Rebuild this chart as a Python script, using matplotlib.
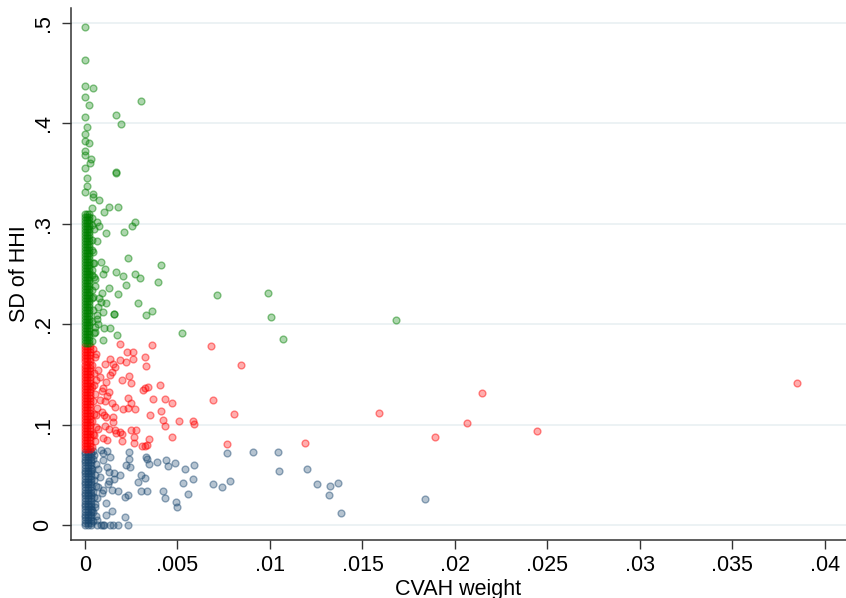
import matplotlib
matplotlib.use("Agg")
import matplotlib.pyplot as plt
from matplotlib.colors import to_rgba
import numpy as np

plt.rcParams['font.family'] = ['Liberation Sans', 'DejaVu Sans']

# axis ticks and labels
x_ticks = [0, 0.005, 0.01, 0.015, 0.02, 0.025, 0.03, 0.035, 0.04]
x_tick_labels = ["0", ".005", ".01", ".015", ".02", ".025", ".03", ".035", ".04"]
y_ticks = [0, 0.1, 0.2, 0.3, 0.4, 0.5]
y_tick_labels = ["0", ".1", ".2", ".3", ".4", ".5"]

# dense strip of points at (almost) zero CVAH weight
blue_band_x = [0.0, 0.00015, 0.0003]
blue_band_y = [0.000, 0.002, 0.005, 0.008, 0.010, 0.013, 0.016, 0.019, 0.021, 0.024,
               0.027, 0.030, 0.032, 0.035, 0.038, 0.041, 0.043, 0.046, 0.049, 0.052,
               0.054, 0.057, 0.060, 0.063, 0.065, 0.068, 0.071, 0.073]
red_band_x = [0.0, 0.00013, 0.00026]
red_band_y = [0.076, 0.079, 0.082, 0.085, 0.088, 0.091, 0.094, 0.097, 0.100, 0.103,
              0.106, 0.109, 0.112, 0.115, 0.118, 0.121, 0.124, 0.127, 0.130, 0.133,
              0.136, 0.139, 0.142, 0.145, 0.148, 0.151, 0.154, 0.157, 0.160, 0.163,
              0.166, 0.169, 0.172, 0.175, 0.178]
green_band_x = [0.0, 0.00012, 0.00024]
green_band_y = [0.181, 0.184, 0.187, 0.190, 0.193, 0.196, 0.199, 0.202, 0.205, 0.208,
                0.211, 0.214, 0.217, 0.220, 0.223, 0.226, 0.229, 0.232, 0.235, 0.238,
                0.241, 0.244, 0.247, 0.250, 0.253, 0.256, 0.259, 0.262, 0.265, 0.268,
                0.271, 0.274, 0.277, 0.280, 0.283, 0.286, 0.289, 0.292, 0.295, 0.298,
                0.301, 0.304, 0.307, 0.310]

# looser fringe on the right side of the strip
blue_fringe_x = [0.00045, 0.0006, 0.0004, 0.00055, 0.0005, 0.00042, 0.0006, 0.00048,
                 0.00052, 0.0004, 0.00058, 0.00046, 0.0005, 0.00044]
blue_fringe_y = [0.004, 0.009, 0.015, 0.021, 0.028, 0.033, 0.039, 0.045, 0.050, 0.056,
                 0.061, 0.066, 0.070, 0.074]
red_fringe_x = [0.0004, 0.00055, 0.00045, 0.0006, 0.0004, 0.0005, 0.00065, 0.00042,
                0.00052, 0.0004, 0.0006, 0.00047, 0.0004, 0.00056, 0.00044]
red_fringe_y = [0.078, 0.084, 0.091, 0.098, 0.104, 0.111, 0.117, 0.124, 0.131, 0.138,
                0.145, 0.152, 0.160, 0.167, 0.175]
green_fringe_x = [0.0004, 0.00052, 0.00036, 0.00046, 0.0004, 0.00055, 0.00038, 0.0005,
                  0.00042, 0.00036, 0.00048, 0.0004]
green_fringe_y = [0.183, 0.192, 0.203, 0.214, 0.226, 0.238, 0.249, 0.261, 0.272, 0.284,
                  0.295, 0.306]

# low SD group (navy)
blue_x = [0.0120, 0.01252, 0.01322, 0.01318, 0.01369, 0.01384, 0.0184,
          0.00486, 0.00542, 0.00589, 0.00531, 0.00582, 0.00558, 0.0049, 0.00497,
          0.0069, 0.00742, 0.00786, 0.00768, 0.0091, 0.01045, 0.01049,
          0.00236, 0.0024, 0.00222, 0.00245, 0.0033, 0.00337, 0.00346, 0.00387,
          0.00438, 0.00449, 0.00434, 0.0042, 0.00333, 0.00303, 0.00285, 0.00303,
          0.00326, 0.00189, 0.00155, 0.0013, 0.00158, 0.00131, 0.00126, 0.00144,
          0.00177, 0.00216, 0.00234, 0.00099, 0.00112, 0.00144, 0.00114, 0.00216,
          0.00063, 0.00086, 0.00135, 0.00153, 0.0018, 0.00231, 0.00063, 0.00117,
          0.00099, 0.00135, 0.00072, 0.00081, 0.00072, 0.0009, 0.00063, 0.00054,
          0.00045, 0.00099, 0.00117, 0.00085, 0.00105, 0.00095]
blue_y = [0.0557, 0.0413, 0.0387, 0.0300, 0.0423, 0.0123, 0.0263,
          0.0623, 0.0560, 0.0603, 0.0418, 0.0461, 0.0315, 0.0229, 0.0185,
          0.0414, 0.0381, 0.0441, 0.0716, 0.0733, 0.0726, 0.0540,
          0.0729, 0.0657, 0.0597, 0.0577, 0.0683, 0.0660, 0.0607, 0.0633,
          0.0647, 0.0593, 0.0272, 0.0341, 0.0341, 0.0344, 0.0431, 0.0504,
          0.0474, 0.0504, 0.0517, 0.0534, 0.0458, 0.0438, 0.0411, 0.0351,
          0.0344, 0.0285, 0.0302, 0.0351, 0.0225, 0.0142, 0.0099, 0.0086,
          0.0053, 0.0003, 0.0000, 0.0000, 0.0000, 0.0000, 0.0000, 0.0583,
          0.0650, 0.0677, 0.0557, 0.0484, 0.0384, 0.0318, 0.0269, 0.0185,
          0.0135, 0.0722, 0.0740, 0.0745, 0.0003, 0.0000]

# middle SD group (red)
red_x = [0.01187, 0.0159, 0.0189, 0.02063, 0.02147, 0.02441, 0.03848,
         0.00681, 0.00845, 0.00694, 0.0047, 0.00805, 0.00506, 0.00582, 0.00589,
         0.0047, 0.00769,
         0.00189, 0.0036, 0.00225, 0.00261, 0.00324, 0.00261, 0.00189, 0.00222,
         0.00135, 0.00108, 0.00153, 0.00162, 0.0033, 0.00144, 0.00135, 0.0024,
         0.00198, 0.00249, 0.00112, 0.00405, 0.00339, 0.00324, 0.00312, 0.00099,
         0.0009, 0.00131, 0.00121, 0.00234, 0.00249, 0.00369, 0.00432, 0.00108,
         0.00144, 0.00162, 0.00204, 0.00234, 0.0027, 0.00409, 0.00351, 0.0042,
         0.0009, 0.00103, 0.00153, 0.00114, 0.0015, 0.00108, 0.00131, 0.00162,
         0.00189, 0.00247, 0.00276, 0.00266, 0.00198, 0.00168, 0.00099, 0.00348,
         0.00324, 0.00306, 0.00117, 0.00434, 0.00198, 0.00265, 0.00337,
         0.0006, 0.0007, 0.0005, 0.0008, 0.0006, 0.0007, 0.0005, 0.0008]
red_y = [0.0817, 0.1117, 0.0880, 0.1020, 0.1320, 0.0940, 0.1417,
         0.1787, 0.1595, 0.1247, 0.1217, 0.1107, 0.1035, 0.1041, 0.1008,
         0.0882, 0.0809,
         0.1801, 0.1797, 0.1727, 0.1727, 0.1678, 0.1655, 0.1645, 0.1628,
         0.1655, 0.1605, 0.1605, 0.1578, 0.1588, 0.1528, 0.1496, 0.1486,
         0.1446, 0.1419, 0.1423, 0.1393, 0.1379, 0.1363, 0.1346, 0.1369,
         0.1339, 0.1329, 0.1287, 0.1264, 0.1214, 0.1260, 0.1254, 0.1237,
         0.1214, 0.1180, 0.1157, 0.1164, 0.1154, 0.1140, 0.1098, 0.1048,
         0.1130, 0.1098, 0.1075, 0.1081, 0.1031, 0.0988, 0.0955, 0.0948,
         0.0931, 0.0948, 0.0948, 0.0882, 0.0905, 0.0921, 0.0866, 0.0859,
         0.0789, 0.0789, 0.0849, 0.0988, 0.0839, 0.0816, 0.0799,
         0.1700, 0.1550, 0.1400, 0.1250, 0.1100, 0.0960, 0.0900, 0.1480]

# high SD group (green)
green_x = [0.00715, 0.00988, 0.01007, 0.01681, 0.00524, 0.01072,
           0.00063, 0.00077, 0.00036, 0.00112, 0.00211, 0.00252, 0.0027, 0.00063,
           0.00234, 0.00409, 0.00086, 0.00108, 0.00096, 0.00168, 0.00204, 0.0027,
           0.00299, 0.00222, 0.00396, 0.00054, 0.0013, 0.00094, 0.0018, 0.00077,
           0.00112, 0.00285, 0.00157, 0.00157, 0.00099, 0.0033, 0.00362, 0.00066,
           0.00072, 0.00103, 0.00137, 0.00174, 0.00099, 0.00038, 0.00042, 0.00038,
           0.00045, 0.00036, 0.0005, 0.00085, 0.00072, 0.00063, 0.00054, 0.00049,
           0.00165, 0.00165, 0.00178, 0.00128, 0.00101, 0.00039, 0.00077, 0.00042,
           0.00043, 0.0001, 0.00009, 0.00002, 0.00034, 0.00027, 0.00002, 0.0, 0.0,
           0.00022, 0.0, 0.0, 0.00012, 0.00303, 0.00166, 0.00193, 0.00023, 0.0,
           0.0, 0.0, 0.00045, 0.0, 0.0]
green_y = [0.2289, 0.2314, 0.2076, 0.2043, 0.1916, 0.1854,
           0.3021, 0.2978, 0.2988, 0.2911, 0.2915, 0.2981, 0.3015, 0.2832,
           0.2657, 0.2587, 0.2623, 0.2547, 0.2500, 0.2523, 0.2481, 0.2503,
           0.2464, 0.2391, 0.2424, 0.2448, 0.2358, 0.2314, 0.2299, 0.2259,
           0.2209, 0.2215, 0.2102, 0.2100, 0.2125, 0.2092, 0.2132, 0.2050,
           0.2003, 0.1966, 0.1966, 0.1890, 0.1844, 0.2739, 0.2607, 0.2341,
           0.2275, 0.2540, 0.2474, 0.2225, 0.2175, 0.2093, 0.1976, 0.1910,
           0.3512, 0.3510, 0.3170, 0.3170, 0.3120, 0.3160, 0.3237, 0.3297,
           0.3264, 0.3380, 0.3453, 0.3320, 0.3645, 0.3605, 0.3552, 0.3724, 0.3688,
           0.3800, 0.3824, 0.3893, 0.3963, 0.4222, 0.4083, 0.3993, 0.4179, 0.4060,
           0.4265, 0.4371, 0.4348, 0.4633, 0.4955]

navy = "#1a476f"
red = "#ff0000"
green = "#008000"


def draw_group(ax, band_x, band_y, fx, fy, xs, ys, color):
    bx = []
    by = []
    for x0 in band_x:
        bx.extend([x0] * len(band_y))
        by.extend(band_y)
    allx = np.array(bx + list(fx) + list(xs))
    ally = np.array(by + list(fy) + list(ys))
    ax.scatter(allx, ally, s=24, facecolor=to_rgba(color, 0.32),
               edgecolor=to_rgba(color, 0.45), linewidths=1.0,
               zorder=3, clip_on=False)


fig = plt.figure(figsize=(8.46, 5.98), dpi=100)
ax = fig.add_axes([0.0839, 0.097, 0.9161, 0.8896])

draw_group(ax, blue_band_x, blue_band_y, blue_fringe_x, blue_fringe_y, blue_x, blue_y, navy)
draw_group(ax, red_band_x, red_band_y, red_fringe_x, red_fringe_y, red_x, red_y, red)
draw_group(ax, green_band_x, green_band_y, green_fringe_x, green_fringe_y, green_x, green_y, green)

ax.set_xlim(-0.000757, 0.04114)
ax.set_ylim(-0.0146, 0.5147)

ax.set_xticks(x_ticks)
ax.set_xticklabels(x_tick_labels)
ax.set_yticks(y_ticks)
ax.set_yticklabels(y_tick_labels, rotation=90, va="center")

for y in y_ticks:
    ax.axhline(y, color="#eaf1f3", lw=1.3, zorder=1)

for s in ["top", "right"]:
    ax.spines[s].set_visible(False)
for s in ["left", "bottom"]:
    ax.spines[s].set_color("#333333")
    ax.spines[s].set_linewidth(1.1)

ax.tick_params(axis="both", direction="out", length=6.5, width=1.0,
               color="#333333", labelsize=15.5, labelcolor="black")
ax.tick_params(axis="x", pad=4)
ax.tick_params(axis="y", pad=6)

ax.set_xlabel("CVAH weight", fontsize=15.5, labelpad=2.5)
ax.set_ylabel("SD of HHI", fontsize=15.5, labelpad=2)

fig.savefig("out.png", dpi=100)
